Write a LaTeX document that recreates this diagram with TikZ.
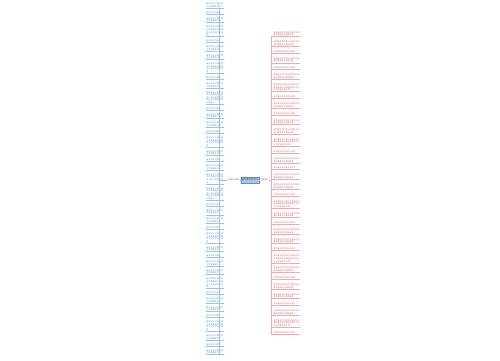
\documentclass[tikz,border=0pt]{standalone}
\usepackage{fontspec}
\newfontfamily\cjk{Noto Sans CJK SC}
\XeTeXlinebreaklocale "zh"
\XeTeXlinebreakskip=0pt plus 1pt
\definecolor{leftc}{HTML}{5B9BD5}
\definecolor{leftl}{HTML}{9DC3E6}
\definecolor{rightc}{HTML}{E07070}
\definecolor{rightl}{HTML}{F2AAAA}
\definecolor{centf}{HTML}{A9C6E8}
\definecolor{centd}{HTML}{5B8FC9}
\def\tA{春天的句子摘抄}
\def\tB{春天的句子摘抄短句优美唯美文案}
\def\tC{春天的句子摘抄短句优美唯美文案春风十里不如你的温柔}
\def\tD{春天的句子摘抄短句优美唯美文案春风十里不如你的温柔花开满园都是美好的样子}
\def\rA{描写春天的优美句子摘抄}
\def\rB{描写春天的优美句子摘抄短句春风拂面花开满园温柔}
\def\rC{描写春天的优美句子摘抄短句春风拂面花开满园温柔时光正好万物复苏草长莺飞}
\tikzset{
  lleaf/.style={font=\cjk\fontsize{2}{2.6}\selectfont, text=leftc, text width=17pt, inner sep=0.4pt, align=left, anchor=north east},
  rleaf/.style={font=\cjk\fontsize{2}{2.6}\selectfont, text=rightc, text width=26pt, inner sep=0.4pt, align=left, anchor=north west},
  lcon/.style={draw=leftl, line width=0.5pt},
  rcon/.style={draw=rightl, line width=0.5pt},
  branch/.style={font=\cjk\fontsize{2}{2.6}\selectfont, text=black!55, inner sep=0.6pt},
  central/.style={font=\cjk\fontsize{2.4}{3}\selectfont, fill=centf, draw=centd, line width=0.4pt, text=black!70, minimum width=18pt, minimum height=6pt, inner sep=0.5pt}
}
\begin{document}
\begin{tikzpicture}[x=1pt,y=-1pt]
\useasboundingbox (0,0) rectangle (500,360);
\fill[white] (0,0) rectangle (500,360);
\node[central] (c) at (250,180) {描写春天的句子};
\node[branch] (lb) at (233.5,180) {优美句子摘抄};
\node[branch] (rb) at (264.5,180) {经典句子};
\draw[lcon] (c.west) -- (lb.east);
\draw[rcon] (c.east) -- (rb.west);
\coordinate (L0) at (224,2.5);
\foreach \t [count=\i, remember=\i as \j (initially 0)] in
 {\tB,\tA,\tB,\tC,\tA,\tB,\tB,\tC,\tA,\tB,\tD,\tA,\tB,\tB,\tA,\tC,\tB,\tA,\tB,\tC,\tD,\tA,\tB,\tB,\tA,\tC,\tB,\tA,\tB,\tB,\tC,\tA,\tB,\tB,\tA,\tC,\tB,\tA,\tB}
{
  \ifnum\j=0
    \node[lleaf] (L\i) at (L0) {\t};
  \else
    \node[lleaf] (L\i) at ([yshift=-2.9pt]L\j.south east) {\t};
  \fi
  \draw[lcon] (lb.west) -- ++(-7.5pt,0) |- (L\i.south east) -- (L\i.south west);
}
\coordinate (R0) at (273,31);
\foreach \t [count=\i, remember=\i as \j (initially 0)] in
 {\rB,\rB,\rA,\rB,\rA,\rB,\rC,\rA,\rB,\rA,\rB,\rB,\rC,\rA,\rB,\rA,\rB,\rB,\rA,\rC,\rB,\rA,\rB,\rB,\rA,\rC,\rB,\rA,\rB,\rB,\rA,\rB,\rC,\rA}
{
  \ifnum\j=0
    \node[rleaf] (R\i) at (R0) {\t};
  \else
    \node[rleaf] (R\i) at ([yshift=-3.9pt]R\j.south west) {\t};
  \fi
  \draw[rcon] (rb.east) -- ++(1.5pt,0) |- (R\i.south west) -- (R\i.south east);
}
\end{tikzpicture}
\end{document}
